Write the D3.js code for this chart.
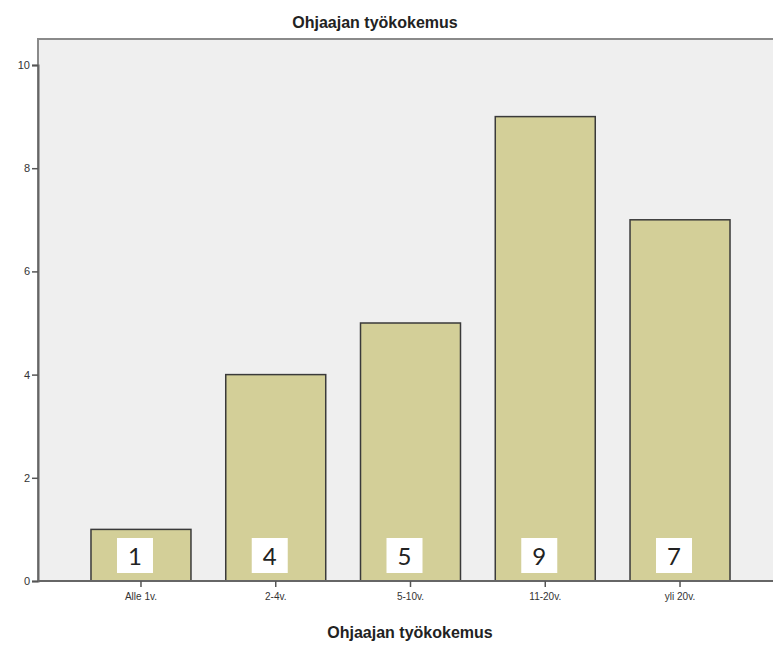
<!DOCTYPE html>
<html><head><meta charset="utf-8">
<script src="https://cdn.jsdelivr.net/npm/d3@7"></script>
<style>body{margin:0;background:#fff}svg{display:block}</style>
</head><body>
<script>
const categories = ["Alle 1v.", "2-4v.", "5-10v.", "11-20v.", "yli 20v."];
const counts = [1, 4, 5, 9, 7];
const yTicks = [0, 2, 4, 6, 8, 10];
const title = "Ohjaajan työkokemus";
const xTitle = "Ohjaajan työkokemus";

const W = 773, H = 646;
const svg = d3.select("body").append("svg").attr("width", W).attr("height", H);

const plot = {left: 38, top: 39, right: 790, bottom: 581};

const y = d3.scaleLinear().domain([0, 10]).range([581, 65]);
const x = d3.scaleBand().domain(categories).range([73.6, 747.4]).paddingInner(0.258).paddingOuter(0.129);

// background
svg.append("rect").attr("x", plot.left).attr("y", plot.top)
  .attr("width", plot.right - plot.left).attr("height", plot.bottom - plot.top)
  .attr("fill", "#efefef").attr("stroke", "#8a8a8a").attr("stroke-width", 2);

// bars
svg.selectAll("rect.bar").data(counts).enter().append("rect").attr("class", "bar")
  .attr("x", (d, i) => x(categories[i]))
  .attr("y", d => y(d))
  .attr("width", x.bandwidth())
  .attr("height", d => y(0) - y(d))
  .attr("fill", "#d3cf98").attr("stroke", "#3a3a3a").attr("stroke-width", 1.5);

// y axis
const yAxis = d3.axisLeft(y).tickValues(yTicks).tickSize(6).tickPadding(2);
const gy = svg.append("g").attr("transform", `translate(${plot.left},0)`).call(yAxis);
gy.select(".domain").attr("stroke", "#666").attr("stroke-width", 2);
gy.selectAll(".tick line").attr("stroke", "#555").attr("stroke-width", 1.5);
gy.selectAll(".tick text").attr("font-family", "Liberation Sans, Arial, sans-serif").attr("font-size", 11).attr("fill", "#333");

// x axis
const xAxis = d3.axisBottom(x).tickSize(6).tickPadding(6).tickSizeOuter(0);
const gx = svg.append("g").attr("transform", `translate(0,${plot.bottom})`).call(xAxis);
gx.select(".domain").attr("stroke", "#666").attr("stroke-width", 2).attr("d", `M${plot.left},0H${plot.right}`);
gx.selectAll(".tick line").attr("stroke", "#555").attr("stroke-width", 1.5);
gx.selectAll(".tick text").attr("font-family", "Liberation Sans, Arial, sans-serif").attr("font-size", 10).attr("fill", "#333");

// value label boxes
const lbl = svg.selectAll("g.lbl").data(counts).enter().append("g").attr("class", "lbl")
  .attr("transform", (d, i) => `translate(${x(categories[i]) + x.bandwidth() / 2 - 6},556)`);
lbl.append("rect").attr("x", -18).attr("y", -18).attr("width", 36).attr("height", 35).attr("fill", "#fff");
lbl.append("text").text(d => d).attr("text-anchor", "middle").attr("dy", "0.36em")
  .attr("font-family", "Lato, 'Open Sans', sans-serif").attr("font-size", 24).attr("fill", "#222");

// titles
svg.append("text").attr("x", 375).attr("y", 28).attr("text-anchor", "middle")
  .attr("font-family", "Liberation Sans, Arial, sans-serif").attr("font-weight", "bold").attr("font-size", 16)
  .attr("fill", "#222").text(title);
svg.append("text").attr("x", 410).attr("y", 638).attr("text-anchor", "middle")
  .attr("font-family", "Liberation Sans, Arial, sans-serif").attr("font-weight", "bold").attr("font-size", 16)
  .attr("fill", "#222").text(xTitle);
</script>
</body></html>
